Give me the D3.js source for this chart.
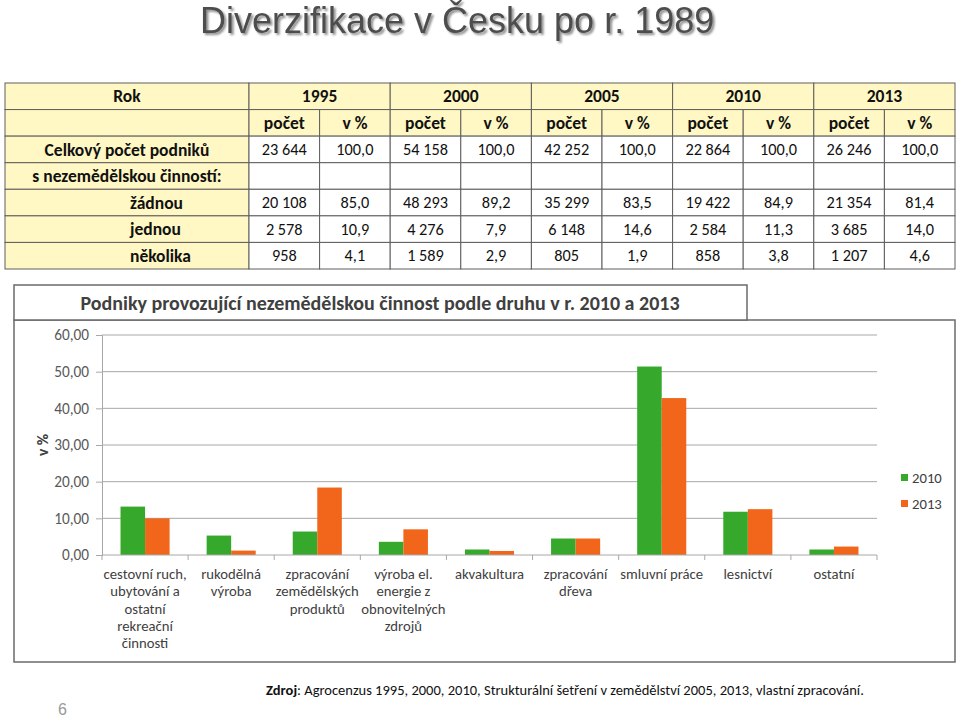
<!DOCTYPE html>
<html><head><meta charset="utf-8">
<script src="https://cdn.jsdelivr.net/npm/d3@7"></script>
<style>body{margin:0;background:#fff}svg{display:block}</style></head>
<body><svg id="c" width="960" height="718"></svg>
<script>
const years = ["1995", "2000", "2005", "2010", "2013"];
const subHeads = ["počet", "v %"];
const rowLabels = ["Celkový počet podniků", "s nezemědělskou činností:", "žádnou", "jednou", "několika"];
const rowTotal = ["23 644", "100,0", "54 158", "100,0", "42 252", "100,0", "22 864", "100,0", "26 246", "100,0"];
const rowBlank = ["", "", "", "", "", "", "", "", "", ""];
const rowNone = ["20 108", "85,0", "48 293", "89,2", "35 299", "83,5", "19 422", "84,9", "21 354", "81,4"];
const rowOne = ["2 578", "10,9", "4 276", "7,9", "6 148", "14,6", "2 584", "11,3", "3 685", "14,0"];
const rowSeveral = ["958", "4,1", "1 589", "2,9", "805", "1,9", "858", "3,8", "1 207", "4,6"];

const categories = [
  "cestovní ruch,\nubytování a\nostatní\nrekreační\nčinnosti",
  "rukodělná\nvýroba",
  "zpracování\nzemědělských\nproduktů",
  "výroba el.\nenergie z\nobnovitelných\nzdrojů",
  "akvakultura",
  "zpracování\ndřeva",
  "smluvní práce",
  "lesnictví",
  "ostatní"
];
const seriesNames = ["2010", "2013"];
const values2010 = [13.2, 5.3, 6.4, 3.6, 1.5, 4.5, 51.4, 11.8, 1.5];
const values2013 = [10.0, 1.2, 18.4, 7.0, 1.1, 4.5, 42.8, 12.5, 2.3];
const yTicks = [0, 10, 20, 30, 40, 50, 60];

const mainTitle = "Diverzifikace v Česku po r. 1989";
const chartTitle = "Podniky provozující nezemědělskou činnost podle druhu v r. 2010 a 2013";
const yLabel = "v %";
const pageNo = "6";

const FONT = "Carlito, Lato, 'Open Sans', sans-serif";
const svg = d3.select("#c");

// ---------- title ----------
const defs = svg.append("defs");
const f = defs.append("filter").attr("id", "sh").attr("x", "-5%").attr("y", "-20%").attr("width", "110%").attr("height", "150%");
f.append("feDropShadow").attr("dx", 2).attr("dy", 2).attr("stdDeviation", 1.2).attr("flood-color", "#000").attr("flood-opacity", 0.45);
svg.append("text").attr("x", 200).attr("y", 33)
  .attr("font-family", "'Liberation Sans', Arial, sans-serif").attr("font-size", 36)
  .attr("fill", "#4d4d4d").attr("filter", "url(#sh)").text(mainTitle);

// ---------- table ----------
const tableRows = [rowTotal, rowBlank, rowNone, rowOne, rowSeveral];
const yRow = d3.scaleBand().domain(d3.range(7)).range([83, 269]);
const xCol = d3.scaleBand().domain(d3.range(10)).range([249, 955]);
const labelX0 = 5, labelX1 = 249;
const yellow = "#fff8c4", border = "#5e5e5e", tc = "#111";
const tg = svg.append("g").attr("font-family", FONT).attr("fill", tc);

function cell(x, y, w, h, fill) {
  tg.append("rect").attr("x", x).attr("y", y).attr("width", w).attr("height", h)
    .attr("fill", fill).attr("stroke", border).attr("stroke-width", 1);
}
function txt(x, y, s, anchor, bold) {
  tg.append("text").attr("x", x).attr("y", y).attr("dy", "0.35em")
    .attr("font-size", bold ? 17.5 : 16.3)
    .attr("text-anchor", anchor).attr("font-weight", bold ? "bold" : "normal").text(s);
}
const rh = yRow.bandwidth(), cw = xCol.bandwidth();
// header row 0
cell(labelX0, yRow(0), labelX1 - labelX0, rh, yellow);
txt((labelX0 + labelX1) / 2, yRow(0) + rh / 2, "Rok", "middle", true);
years.forEach((yr, i) => {
  cell(xCol(i * 2), yRow(0), cw * 2, rh, yellow);
  txt(xCol(i * 2) + cw, yRow(0) + rh / 2, yr, "middle", true);
});
// header row 1
cell(labelX0, yRow(1), labelX1 - labelX0, rh, yellow);
years.forEach((yr, i) => {
  subHeads.forEach((s, j) => {
    const c = i * 2 + j;
    cell(xCol(c), yRow(1), cw, rh, yellow);
    txt(xCol(c) + cw / 2, yRow(1) + rh / 2, s, "middle", true);
  });
});
// data rows
tableRows.forEach((row, r) => {
  const ry = yRow(r + 2);
  cell(labelX0, ry, labelX1 - labelX0, rh, yellow);
  if (r < 2) txt((labelX0 + labelX1) / 2, ry + rh / 2, rowLabels[r], "middle", true);
  else txt(130, ry + rh / 2, rowLabels[r], "start", true);
  row.forEach((v, c) => {
    cell(xCol(c), ry, cw, rh, "#fff");
    txt(xCol(c) + cw / 2, ry + rh / 2, v, "middle", false);
  });
});

// ---------- chart frame ----------
const frameColor = "#6a6a6a";
svg.append("rect").attr("x", 14).attr("y", 320).attr("width", 941).attr("height", 342)
  .attr("fill", "#fff").attr("stroke", frameColor).attr("stroke-width", 1.5);
svg.append("rect").attr("x", 14).attr("y", 285).attr("width", 733).attr("height", 35)
  .attr("fill", "#fff").attr("stroke", frameColor).attr("stroke-width", 1.5);
svg.append("text").attr("x", 380).attr("y", 303).attr("dy", "0.35em").attr("text-anchor", "middle")
  .attr("font-family", FONT).attr("font-size", 20).attr("font-weight", "bold").attr("fill", "#404040")
  .text(chartTitle);

// ---------- plot ----------
const x0 = d3.scaleBand().domain(categories).range([102, 877]).paddingInner(0.43).paddingOuter(0.215);
const x1 = d3.scaleBand().domain(seriesNames).range([0, x0.bandwidth()]);
const y = d3.scaleLinear().domain([0, 60]).range([555, 335]);
const colors = d3.scaleOrdinal().domain(seriesNames).range(["#36a82b", "#f2661b"]);
const step = x0.step();
const gridColor = "#a8a8a8";

const g = svg.append("g").attr("font-family", FONT);
// gridlines
g.append("g").selectAll("line").data(yTicks.filter(d => d > 0)).join("line")
  .attr("x1", 102).attr("x2", 877).attr("y1", d => y(d)).attr("y2", d => y(d))
  .attr("stroke", gridColor).attr("stroke-width", 1);

// y axis
const yAxis = d3.axisLeft(y).tickValues(yTicks).tickSize(6).tickPadding(7)
  .tickFormat(d => d3.format(".2f")(d).replace(".", ","));
const ya = g.append("g").attr("transform", "translate(102,0)").call(yAxis);
ya.select(".domain").attr("stroke", gridColor);
ya.selectAll(".tick line").attr("stroke", gridColor);
ya.selectAll(".tick text").attr("fill", "#595959").attr("font-size", 15.3).attr("font-family", FONT);

// bars
const data = categories.map((c, i) => ({ c, vals: [values2010[i], values2013[i]] }));
g.append("g").selectAll("g").data(data).join("g")
  .attr("transform", d => `translate(${x0(d.c)},0)`)
  .selectAll("rect").data(d => seriesNames.map((s, j) => ({ s, v: d.vals[j] }))).join("rect")
  .attr("x", d => x1(d.s)).attr("width", x1.bandwidth())
  .attr("y", d => y(d.v)).attr("height", d => y(0) - y(d.v))
  .attr("fill", d => colors(d.s));

// x axis
g.append("line").attr("x1", 102).attr("x2", 877).attr("y1", y(0)).attr("y2", y(0)).attr("stroke", gridColor);
const bounds = d3.range(categories.length + 1).map(i => 102 + i * step);
g.append("g").selectAll("line").data(bounds).join("line")
  .attr("x1", d => d).attr("x2", d => d).attr("y1", y(0)).attr("y2", y(0) + 5).attr("stroke", gridColor);

const xl = g.append("g").attr("font-size", 14.7).attr("fill", "#404040");
categories.forEach(c => {
  const cx = x0(c) + x0.bandwidth() / 2;
  const t = xl.append("text").attr("x", cx).attr("y", 579).attr("text-anchor", "middle");
  c.split("\n").forEach((ln, k) => {
    t.append("tspan").attr("x", cx).attr("dy", k === 0 ? 0 : 17.3).text(ln);
  });
});

// y label
g.append("text").attr("transform", "translate(48,445) rotate(-90)").attr("text-anchor", "middle")
  .attr("font-size", 15.5).attr("font-weight", "bold").attr("fill", "#404040").text(yLabel);

// legend
const lg = g.append("g");
seriesNames.forEach((s, i) => {
  const ly = 477.5 + i * 26;
  lg.append("rect").attr("x", 901).attr("y", ly - 3.5).attr("width", 7).attr("height", 7).attr("fill", colors(s));
  lg.append("text").attr("x", 912).attr("y", ly).attr("dy", "0.35em").attr("font-size", 14.7).attr("fill", "#404040").text(s);
});

// footer
const ft = svg.append("text").attr("x", 266).attr("y", 690).attr("dy", "0.35em")
  .attr("font-family", FONT).attr("font-size", 14.5).attr("fill", "#111");
ft.append("tspan").attr("font-weight", "bold").text("Zdroj");
ft.append("tspan").text(": Agrocenzus 1995, 2000, 2010, Strukturální šetření v zemědělství 2005, 2013, vlastní zpracování.");

svg.append("text").attr("x", 58).attr("y", 709).attr("dy", "0.35em")
  .attr("font-family", "'Liberation Sans', Arial, sans-serif").attr("font-size", 16).attr("fill", "#999")
  .text(pageNo);
</script></body></html>
